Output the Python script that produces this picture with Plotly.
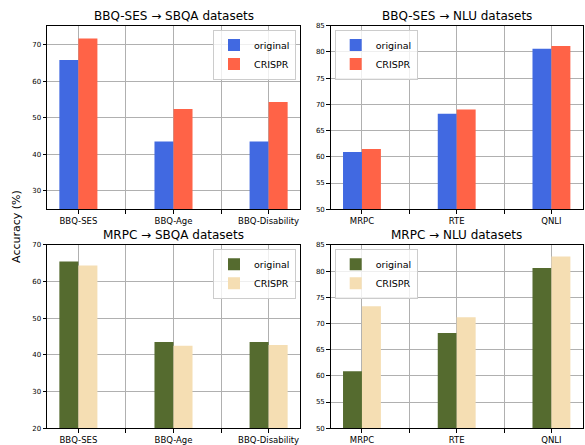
import plotly.graph_objects as go

sbqa_cats = ["BBQ-SES", "BBQ-Age", "BBQ-Disability"]
nlu_cats = ["MRPC", "RTE", "QNLI"]

# BBQ-SES -> SBQA
p1_original = [65.8, 43.5, 43.5]
p1_crispr = [71.7, 52.4, 54.3]
# BBQ-SES -> NLU
p2_original = [60.9, 68.2, 80.6]
p2_crispr = [61.5, 69.0, 81.1]
# MRPC -> SBQA
p3_original = [65.5, 43.5, 43.5]
p3_crispr = [64.4, 42.5, 42.7]
# MRPC -> NLU
p4_original = [60.9, 68.2, 80.6]
p4_crispr = [73.3, 71.2, 82.8]

titles = ["BBQ-SES → SBQA datasets", "BBQ-SES → NLU datasets",
          "MRPC → SBQA datasets", "MRPC → NLU datasets"]
y_ranges = [[25, 75.2], [50, 85], [20, 70], [50, 85]]
y_dticks = [10, 5, 10, 5]

W, H = 585, 445
FONT = "DejaVu Sans"

# panel pixel boxes (left, top, right, bottom)
boxes = [(47, 22, 300, 209), (330.7, 22, 582.7, 209),
         (47, 245.3, 300, 432), (330.7, 245.3, 582.7, 432)]

colors = [("#4169E1", "#FF6347"), ("#4169E1", "#FF6347"),
          ("#556B2F", "#F5DEB3"), ("#556B2F", "#F5DEB3")]
panels = [(sbqa_cats, p1_original, p1_crispr), (nlu_cats, p2_original, p2_crispr),
          (sbqa_cats, p3_original, p3_crispr), (nlu_cats, p4_original, p4_crispr)]
legend_pos = ["right", "left", "right", "left"]

fig = go.Figure()
layout = dict(width=W, height=H, margin=dict(l=0, r=0, t=0, b=0),
              paper_bgcolor="white", plot_bgcolor="white",
              font=dict(family=FONT, color="black"),
              barmode="group", bargap=0.6, bargroupgap=0.0,
              showlegend=True, annotations=[])

for i, ((cats, orig, cr), (c1, c2), box) in enumerate(zip(panels, colors, boxes)):
    n = i + 1
    xa = "x" if n == 1 else f"x{n}"
    ya = "y" if n == 1 else f"y{n}"
    lg = "legend" if n == 1 else f"legend{n}"
    xs = list(range(len(cats)))
    fig.add_trace(go.Bar(x=xs, y=orig, name="original", marker_color=c1,
                         marker_line_width=0, xaxis=xa, yaxis=ya, legend=lg,
                         offsetgroup="a"))
    fig.add_trace(go.Bar(x=xs, y=cr, name="CRISPR", marker_color=c2,
                         marker_line_width=0, xaxis=xa, yaxis=ya, legend=lg,
                         offsetgroup="b"))
    l, t, r, b = box
    xd = [l / W, r / W]
    yd = [1 - b / H, 1 - t / H]
    tickvals = []
    ticktext = []
    for k, c in enumerate(cats):
        tickvals.append(k)
        ticktext.append(c)
        if k < len(cats) - 1:
            tickvals.append(k + 0.5)
            ticktext.append("")
    axis_common = dict(showline=True, linecolor="black", linewidth=1, mirror=True,
                       showgrid=True, gridcolor="#b0b0b0", gridwidth=1,
                       ticks="outside", ticklen=3.5, tickcolor="black", tickwidth=0.8,
                       layer="above traces", zeroline=False)
    layout["xaxis" if n == 1 else f"xaxis{n}"] = dict(
        domain=xd, anchor=ya, range=[-0.33, 2.33], tickmode="array",
        tickvals=tickvals, ticktext=ticktext,
        tickfont=dict(size=8.5, family=FONT), **axis_common)
    layout["yaxis" if n == 1 else f"yaxis{n}"] = dict(
        domain=yd, anchor=xa, range=y_ranges[i], dtick=y_dticks[i],
        tickfont=dict(size=7, family=FONT), **axis_common)
    if legend_pos[i] == "right":
        lx, xanchor = (r - 4) / W, "right"
    else:
        lx, xanchor = (l + 4) / W, "left"
    layout[lg] = dict(x=lx, y=1 - (t + 4) / H, xanchor=xanchor, yanchor="top",
                      xref="paper", yref="paper",
                      bgcolor="rgba(255,255,255,0.8)", bordercolor="#cccccc",
                      borderwidth=1, font=dict(size=9.5, family=FONT),
                      itemwidth=30, tracegroupgap=0)
    layout["annotations"].append(dict(
        text=titles[i], x=(l + r) / 2 / W, y=1 - t / H, xref="paper", yref="paper",
        xanchor="center", yanchor="bottom", showarrow=False, yshift=1,
        font=dict(size=12, family=FONT)))

layout["annotations"].append(dict(
    text="Accuracy (%)", x=17 / W, y=1 - 227 / H, xref="paper", yref="paper",
    xanchor="center", yanchor="middle", showarrow=False, textangle=-90,
    font=dict(size=11, family=FONT)))

fig.update_layout(**layout)
fig.write_html("out.html",
               config={"displayModeBar": False},
               post_script="document.body.style.margin='0';"
                           "document.body.style.overflow='hidden';")
